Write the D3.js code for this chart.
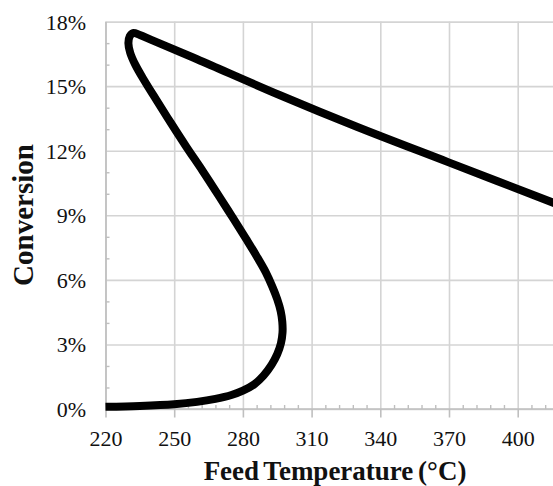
<!DOCTYPE html>
<html>
<head>
<meta charset="utf-8">
<script src="https://cdn.jsdelivr.net/npm/d3@7"></script>
<style>
  html, body { margin: 0; padding: 0; background: #fff; }
  svg { display: block; }
</style>
</head>
<body>
<svg id="chart" width="553" height="486"></svg>
<script>
// ---- data ----
const xTicks = [220, 250, 280, 310, 340, 370, 400];
const yTicks = [0, 3, 6, 9, 12, 15, 18];
const xMinorStep = 6;
const yMinorStep = 1;
// Feed temperature (°C) along the S-curve
const temperature = [
  220, 235, 250, 260, 268, 275, 280, 285, 289, 292.5, 295, 296.6, 297.3, 297.2,
  296.5, 295, 292.8, 290, 286, 281.4, 275.5, 269.7, 262.5, 255.2, 248.5, 242.2, 237, 233,
  230.8, 230, 230.6, 232, 235, 240, 260, 295.7, 330, 369.6, 420
];
// Conversion (%)
const conversion = [
  0.10, 0.14, 0.22, 0.33, 0.47, 0.65, 0.85, 1.15, 1.55, 2.05, 2.55, 3.05, 3.55, 4.05,
  4.55, 5.1, 5.7, 6.35, 7.1, 7.9, 8.9, 9.87, 11.05, 12.2, 13.3, 14.36, 15.25, 16.0,
  16.55, 17.0, 17.32, 17.47, 17.38, 17.15, 16.25, 14.6, 13.1, 11.47, 9.4
];
const xLabel = "Feed Temperature (\u00B0C)";
const yLabel = "Conversion";

// ---- layout ----
const svg = d3.select("#chart");
const W = 553, H = 486;
const x = d3.scaleLinear().domain([220, 420]).range([105.5, 563.5]);
const y = d3.scaleLinear().domain([0, 18]).range([409, 21.6]);
const plotTop = y(18), plotBottom = y(0), plotLeft = x(220);

const gridColor = "#d4d4d4";
const axisColor = "#bfbfbf";
const font = "'Liberation Serif', 'Times New Roman', serif";

svg.append("defs").append("clipPath").attr("id", "clip")
  .append("rect").attr("x", plotLeft - 1).attr("y", plotTop - 10)
  .attr("width", W - plotLeft + 1).attr("height", plotBottom - plotTop + 12);

// vertical grid
const gx = svg.append("g").attr("transform", `translate(0,${plotBottom})`)
  .call(d3.axisBottom(x).tickValues(xTicks).tickSize(-(plotBottom - plotTop)).tickFormat(""));
gx.select(".domain").remove();
gx.selectAll(".tick line").attr("stroke", gridColor).attr("stroke-width", 1.6);

// horizontal grid
const gy = svg.append("g").attr("transform", `translate(${plotLeft},0)`)
  .call(d3.axisLeft(y).tickValues(yTicks).tickSize(-(W - plotLeft)).tickFormat(""));
gy.select(".domain").remove();
gy.selectAll(".tick line").attr("stroke", gridColor).attr("stroke-width", 1.6);

// x minor ticks (inside, above axis)
const xMinor = d3.range(220, 421, xMinorStep).filter(v => (v - 220) % 30 !== 0);
const gxm = svg.append("g").attr("transform", `translate(0,${plotBottom})`)
  .call(d3.axisTop(x).tickValues(xMinor).tickSize(4).tickFormat(""));
gxm.select(".domain").remove();
gxm.selectAll(".tick line").attr("stroke", axisColor).attr("stroke-width", 1.4);

// y minor ticks (inside, right of axis)
const yMinor = d3.range(0, 18.01, yMinorStep).filter(v => v % 3 !== 0);
const gym = svg.append("g").attr("transform", `translate(${plotLeft},0)`)
  .call(d3.axisRight(y).tickValues(yMinor).tickSize(4).tickFormat(""));
gym.select(".domain").remove();
gym.selectAll(".tick line").attr("stroke", axisColor).attr("stroke-width", 1.4);

// x axis with major ticks and labels
const ax = svg.append("g").attr("transform", `translate(0,${plotBottom})`)
  .call(d3.axisBottom(x).tickValues(xTicks).tickSizeInner(8.5).tickSizeOuter(0).tickFormat(d3.format("d")));
ax.select(".domain").attr("stroke", axisColor).attr("stroke-width", 1.6)
  .attr("d", `M${plotLeft},0H${W + 20}`);
ax.selectAll(".tick line").attr("stroke", axisColor).attr("stroke-width", 1.6);
ax.selectAll(".tick text").attr("y", 36.5).attr("dy", null)
  .attr("font-family", font).attr("font-size", 22).attr("fill", "#111");

// y axis with labels
const ay = svg.append("g").attr("transform", `translate(${plotLeft},0)`)
  .call(d3.axisLeft(y).tickValues(yTicks).tickSize(0).tickPadding(19.5)
    .tickFormat(d => d + "%"));
ay.select(".domain").attr("stroke", axisColor).attr("stroke-width", 1.6);
ay.selectAll(".tick text").attr("dy", "0.34em")
  .attr("font-family", font).attr("font-size", 22).attr("fill", "#111");

// curve
const pts = temperature.map((t, i) => [t, conversion[i]]);
const line = d3.line().x(d => x(d[0])).y(d => y(d[1])).curve(d3.curveCatmullRom.alpha(0.5));
svg.append("path").datum(pts)
  .attr("clip-path", "url(#clip)")
  .attr("d", line)
  .attr("fill", "none")
  .attr("stroke", "#000")
  .attr("stroke-width", 8)
  .attr("stroke-linejoin", "round")
  .attr("stroke-linecap", "butt");

// axis titles
svg.append("text").attr("x", 335).attr("y", 479.5).attr("text-anchor", "middle")
  .attr("font-family", font).attr("font-weight", "bold").attr("font-size", 27)
  .attr("word-spacing", "-2px").attr("fill", "#111").text(xLabel);
svg.append("text").attr("transform", `translate(33,215) rotate(-90)`).attr("text-anchor", "middle")
  .attr("font-family", font).attr("font-weight", "bold").attr("font-size", 29)
  .attr("fill", "#111").text(yLabel);
</script>
</body>
</html>
